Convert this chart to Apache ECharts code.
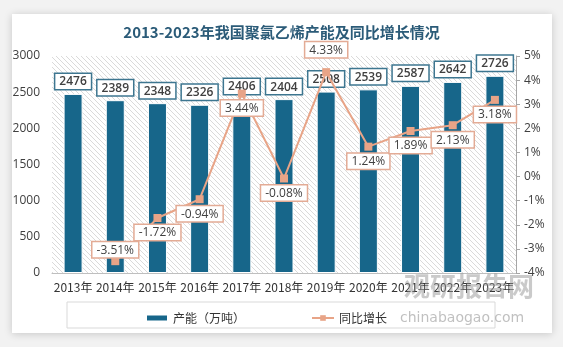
<!DOCTYPE html>
<html><head><meta charset="utf-8">
<script src="https://cdn.jsdelivr.net/npm/echarts@6/dist/echarts.min.js"></script>
<style>html,body{margin:0;padding:0;background:#f2f2f2;}#c{width:563px;height:347px;}</style>
</head><body><div id="c"></div>
<script>
var years = ['2013年','2014年','2015年','2016年','2017年','2018年','2019年','2020年','2021年','2022年','2023年'];
var capacity = [2476,2389,2348,2326,2406,2404,2508,2539,2587,2642,2726];
var growth = [null,-3.51,-1.72,-0.94,3.44,-0.08,4.33,1.24,1.89,2.13,3.18];
var growthLabelPos = ['top','top','bottom','bottom','bottom','bottom','top','bottom','bottom','bottom','bottom'];
var growthLabelDist = [3,0,3,3,3,3,11,3,3,3,3];
var leftTicks = {min:0,max:3000,interval:500};
var rightTicks = {min:-4,max:5,interval:1};

var pc = document.createElement('canvas');
pc.width = 5; pc.height = 5;
var g = pc.getContext('2d');
g.fillStyle = '#ffffff'; g.fillRect(0,0,5,5);
g.strokeStyle = '#dadada'; g.lineWidth = 1;
g.beginPath();
g.moveTo(0,0); g.lineTo(5,5);
g.moveTo(-2.5,2.5); g.lineTo(2.5,7.5);
g.moveTo(2.5,-2.5); g.lineTo(7.5,2.5);
g.stroke();

var chart = echarts.init(document.getElementById('c'), null, {renderer:'canvas'});
var font = '"Noto Sans CJK SC","Open Sans",sans-serif';
var lineData = growth.map(function(v,i){
  return {value:v, label:{position:growthLabelPos[i],distance:growthLabelDist[i]}};
});
chart.setOption({
  backgroundColor:'#f2f2f2',
  textStyle:{fontFamily:font},
  title:{text:'2013-2023年我国聚氯乙烯产能及同比增长情况',left:'center',top:20,
    textStyle:{fontSize:15,fontWeight:'bold',color:'#2b5b78',fontFamily:font}},
  graphic:[
    {type:'rect',z:-10,shape:{x:12,y:14,width:540,height:319},
     style:{fill:'#ffffff',shadowBlur:8,shadowColor:'rgba(0,0,0,0.18)',shadowOffsetX:0,shadowOffsetY:1}},
    {type:'rect',z:-5,shape:{x:67,y:302,width:428,height:26},
     style:{fill:'#ffffff',stroke:'#d9d9d9',lineWidth:1}},
    {type:'text',z:50,left:404,top:273,style:{text:'观研报告网',fill:'rgba(150,150,150,0.5)',font:'bold 26px "Noto Sans CJK SC"'}},
    {type:'text',z:50,left:400,top:311,style:{text:'chinabaogao.com',fill:'rgba(150,150,150,0.6)',font:'14px "DejaVu Sans"'}}
  ],
  grid:{left:52,right:47,top:56,bottom:74,show:true,borderWidth:0,
    backgroundColor:{image:pc,repeat:'repeat'}},
  legend:{left:140,top:307,itemGap:66,itemWidth:22,itemHeight:7,
    textStyle:{fontSize:12,color:'#333',fontFamily:font},
    data:[{name:'产能（万吨）',icon:'rect'},{name:'同比增长'}]},
  xAxis:{type:'category',data:years,
    axisLine:{lineStyle:{color:'#bfbfbf'}},axisTick:{show:false},
    axisLabel:{color:'#333',fontSize:12,margin:8,fontFamily:font,interval:0}},
  yAxis:[
    {type:'value',min:leftTicks.min,max:leftTicks.max,interval:leftTicks.interval,
     splitLine:{show:false},axisLine:{show:false},axisTick:{show:false},
     axisLabel:{color:'#404040',fontSize:12,margin:12,fontFamily:'"Open Sans",sans-serif',
       formatter:function(v){return String(v);}}},
    {type:'value',min:rightTicks.min,max:rightTicks.max,interval:rightTicks.interval,
     splitLine:{show:false},axisLine:{show:true,lineStyle:{color:'#a6a6a6'}},
     axisTick:{show:true,length:4,lineStyle:{color:'#a6a6a6'}},
     axisLabel:{color:'#404040',fontSize:12,margin:8,formatter:'{value}%',fontFamily:'"Open Sans",sans-serif'}}
  ],
  series:[
    {name:'产能（万吨）',type:'bar',data:capacity,barWidth:19,
     itemStyle:{color:'#17668a',borderColor:'#ffffff',borderWidth:1},
     label:{show:true,position:'top',distance:5,color:'#404040',fontSize:12,fontWeight:600,
       fontFamily:'"Open Sans",sans-serif',backgroundColor:'#ffffff',borderColor:'#3d7690',borderWidth:1.5,
       padding:[2,4,1,4]}},
    {name:'同比增长',type:'line',yAxisIndex:1,data:lineData,
     symbol:'rect',symbolSize:8,
     lineStyle:{color:'#e8a487',width:2},itemStyle:{color:'#e8a487'},
     label:{show:true,distance:3,color:'#404040',fontSize:12,
       fontFamily:'"Open Sans",sans-serif',backgroundColor:'#ffffff',borderColor:'#e3ab95',borderWidth:1.5,
       padding:[2,4,1,4],formatter:function(p){return p.value.toFixed(2)+'%';}}}
  ]
});
</script></body></html>
